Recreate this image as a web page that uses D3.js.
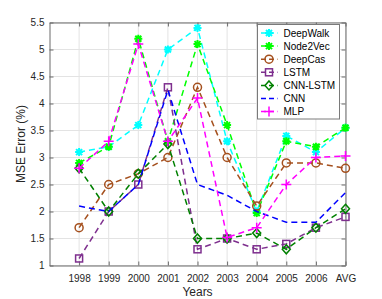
<!DOCTYPE html>
<html lang="en">
<head>
<meta charset="UTF-8">
<title>MSE Error</title>
<script src="https://cdn.jsdelivr.net/npm/d3@7"></script>
<style>
  body { margin: 0; background: #fff; }
  svg { display: block; font-family: "Liberation Sans", Arial, sans-serif; }
</style>
</head>
<body>
<div class="container"></div>
<script>
const years = ["1998","1999","2000","2001","2002","2003","2004","2005","2006","AVG"]
const yTicks = [1, 1.5, 2, 2.5, 3, 3.5, 4, 4.5, 5, 5.5]

const deepWalk = [3.1, 3.2, 3.6, 5.0, 5.4, 3.3, 2.0, 3.4, 3.1, 3.55]
const node2Vec = [2.9, 3.2, 5.2, 3.3, 5.1, 3.6, 1.97, 3.3, 3.2, 3.55]
const deepCas  = [1.7, 2.5, 2.7, 3.0, 4.3, 3.0, 2.1, 2.9, 2.9, 2.8]
const lstm     = [1.13, 2.0, 2.5, 4.3, 1.3, 1.5, 1.3, 1.4, 1.7, 1.9]
const cnnLstm  = [2.8, 2.0, 2.7, 3.25, 1.5, 1.5, 1.6, 1.3, 1.7, 2.05]
const cnn      = [2.1, 2.0, 2.5, 4.25, 2.5, 2.3, 2.0, 1.8, 1.8, 2.35]
const mlp      = [2.8, 3.3, 5.1, 3.3, 4.1, 1.52, 1.7, 2.5, 3.0, 3.03]

const series = [
  {name: "DeepWalk", values: deepWalk, color: "#00ffff", marker: "star"},
  {name: "Node2Vec", values: node2Vec, color: "#00ff00", marker: "star"},
  {name: "DeepCas", values: deepCas, color: "#a5501e", marker: "circle"},
  {name: "LSTM", values: lstm, color: "#7e2f8e", marker: "square"},
  {name: "CNN-LSTM", values: cnnLstm, color: "#008000", marker: "diamond"},
  {name: "CNN", values: cnn, color: "#0000ff", marker: "none"},
  {name: "MLP", values: mlp, color: "#ff00ff", marker: "plus"}
]

const W = 382, H = 299
const m = {left: 49.5, right: 36.5, top: 22.5, bottom: 33.5}
const iw = W - m.left - m.right, ih = H - m.top - m.bottom

const svg = d3.select(".container").append("svg").attr("width", W).attr("height", H)
const g = svg.append("g").attr("transform", `translate(${m.left},${m.top})`)

const x = d3.scaleLinear().domain([0, years.length]).range([0, iw])
const y = d3.scaleLinear().domain([1, 5.5]).range([ih, 0])

// grid
g.append("g").selectAll("line").data(years).join("line")
  .attr("x1", (d, i) => x(i + 1)).attr("x2", (d, i) => x(i + 1))
  .attr("y1", 0).attr("y2", ih)
  .attr("stroke", "#e3e3e3").attr("stroke-width", 1)
g.append("g").selectAll("line").data(yTicks).join("line")
  .attr("x1", 0).attr("x2", iw)
  .attr("y1", d => y(d)).attr("y2", d => y(d))
  .attr("stroke", "#e3e3e3").attr("stroke-width", 1)

// axes (matlab style, ticks inside, box)
const axisColor = "#6b6b6b"
const xAxis = d3.axisBottom(x).tickValues(d3.range(1, years.length + 1))
  .tickFormat(d => years[d - 1]).tickSizeInner(-4).tickSizeOuter(0).tickPadding(9)
const yAxis = d3.axisLeft(y).tickValues(yTicks).tickFormat(d3.format("~g"))
  .tickSizeInner(-4).tickSizeOuter(0).tickPadding(5)

const gx = g.append("g").attr("transform", `translate(0,${ih})`).call(xAxis)
const gy = g.append("g").call(yAxis)
const gxt = g.append("g").call(d3.axisTop(x).tickValues(d3.range(1, years.length + 1)).tickFormat("").tickSizeInner(-4).tickSizeOuter(0))
const gyr = g.append("g").attr("transform", `translate(${iw},0)`).call(d3.axisRight(y).tickValues(yTicks).tickFormat("").tickSizeInner(-4).tickSizeOuter(0))

for (const a of [gx, gy, gxt, gyr]) {
  a.select(".domain").attr("stroke", axisColor)
  a.selectAll(".tick line").attr("stroke", axisColor)
  a.selectAll("text").attr("fill", "#262626").attr("font-size", "10px")
    .attr("font-family", "Liberation Sans, Arial, sans-serif")
}

// labels
svg.append("text").attr("x", m.left + iw / 2).attr("y", 296)
  .attr("text-anchor", "middle").attr("font-size", "12px").attr("fill", "#262626").text("Years")
svg.append("text").attr("transform", `translate(25,${m.top + ih / 2}) rotate(-90)`)
  .attr("text-anchor", "middle").attr("font-size", "12px").attr("fill", "#262626").text("MSE Error (%)")

function drawMarker(sel, type, color) {
  if (type === "star") {
    sel.append("path").attr("d", "M-4,0H4M0,-4V4M-3,-3L3,3M-3,3L3,-3")
      .attr("stroke", color).attr("stroke-width", 2).attr("fill", "none")
  } else if (type === "circle") {
    sel.append("circle").attr("r", 4).attr("fill", "none").attr("stroke", color).attr("stroke-width", 1.5)
  } else if (type === "square") {
    sel.append("rect").attr("x", -3.5).attr("y", -3.5).attr("width", 7).attr("height", 7)
      .attr("fill", "none").attr("stroke", color).attr("stroke-width", 1.5)
  } else if (type === "diamond") {
    sel.append("path").attr("d", "M0,-4.5L4,0L0,4.5L-4,0Z")
      .attr("fill", "none").attr("stroke", color).attr("stroke-width", 1.5)
  } else if (type === "plus") {
    sel.append("path").attr("d", "M-5,0H5M0,-5V5")
      .attr("stroke", color).attr("stroke-width", 1.5).attr("fill", "none")
  }
}

const line = d3.line().x((d, i) => x(i + 1)).y(d => y(d))

series.forEach(s => {
  const sg = g.append("g")
  sg.append("path").datum(s.values).attr("d", line)
    .attr("fill", "none").attr("stroke", s.color).attr("stroke-width", 1.5)
    .attr("stroke-dasharray", "6,4")
  sg.selectAll("g.mk").data(s.values).join("g").attr("class", "mk")
    .attr("transform", (d, i) => `translate(${x(i + 1)},${y(d)})`)
    .each(function () { drawMarker(d3.select(this), s.marker, s.color) })
})

// legend
const lg = svg.append("g").attr("transform", "translate(257.5,24.5)")
lg.append("rect").attr("width", 82).attr("height", 94.5)
  .attr("fill", "#fff").attr("stroke", "#7a7a7a").attr("stroke-width", 1)
series.forEach((s, i) => {
  const row = lg.append("g").attr("transform", `translate(0,${8.5 + i * 13.1})`)
  row.append("line").attr("x1", 3.5).attr("x2", 20).attr("y1", 0).attr("y2", 0)
    .attr("stroke", s.color).attr("stroke-width", 1.5).attr("stroke-dasharray", "5,3")
  const mk = row.append("g").attr("transform", "translate(11.5,0)")
  drawMarker(mk, s.marker, s.color)
  row.append("text").attr("x", 26).attr("y", 0).attr("dy", "0.35em")
    .attr("font-size", "10px").attr("fill", "#000").text(s.name)
})
</script>
</body>
</html>
